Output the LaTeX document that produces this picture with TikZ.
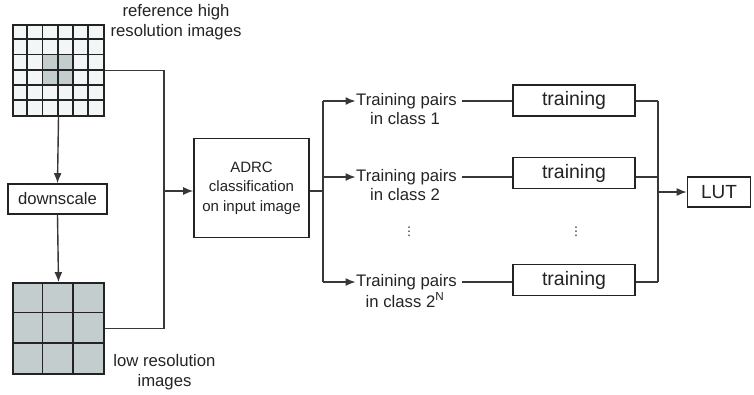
\documentclass[tikz,border=0pt]{standalone}
\usepackage{fontspec}
\setmainfont{Liberation Sans}
\newfontfamily\symfont{DejaVu Sans}
\usetikzlibrary{arrows.meta,calc,positioning}
\definecolor{fg}{RGB}{35,35,35}
\definecolor{ln}{RGB}{55,55,55}
\definecolor{px}{RGB}{242,246,246}
\definecolor{pxd}{RGB}{196,205,205}
\newcommand{\fsz}[2]{\fontsize{#1}{#2}\selectfont}
\tikzset{
  every picture/.style={fg, line width=1.4pt, line join=miter,
    >={Latex[length=10pt,width=8pt]}},
  every node/.style={font=\fsz{16.7}{20}},
  % Linien
  conn/.style={ln, line width=1.4pt},
  arr/.style={conn, ->},
  % Kästen
  blk/.style={draw=fg, line width=1.6pt, fill=white, inner sep=0pt, align=center},
  img/.style={draw=fg, line width=1.8pt, inner sep=0pt, minimum size=91pt},
  cell/.style={fg, line width=1.8pt},
  lbl/.style={align=center, inner sep=0pt, text=fg},
  vdot/.style={lbl, font=\symfont\fsz{12}{12}},
}

\begin{document}
\begin{tikzpicture}[x=1pt, y=-1pt]
  \useasboundingbox (0,0) rectangle (754,394);
  % ---------- Bilder ----------
  \node[img, fill=px] (hr) at (58.5,70.5) {};
  \fill[pxd] ($(hr.north west)+(2*91/6,2*91/6)$) rectangle +(2*91/6,2*91/6);
  \foreach \i in {1,...,5} {
    \draw[cell] ($(hr.north west)+(\i*91/6,0)$) -- +(0,91);
    \draw[cell] ($(hr.north west)+(0,\i*91/6)$) -- +(91,0);
  }
  \node[lbl] (hrt) at (176,22.5) {reference high\\resolution images};
  \node[blk, minimum width=99pt, minimum height=30pt] (ds) at (57.5,199) {downscale};
  \node[img, fill=pxd] (lr) at (58.5,328.5) {};
  \foreach \i in {1,2} {
    \draw[cell] ($(lr.north west)+(\i*91/3,0)$) -- +(0,91);
    \draw[cell] ($(lr.north west)+(0,\i*91/3)$) -- +(91,0);
  }
  \node[lbl] (lrt) at (164.5,372) {low resolution\\images};
  \draw[arr] (hr.south) -- (ds.north);
  \draw[arr] (ds.south) -- (lr.north);
  % ---------- ADRC ----------
  \coordinate (jl) at (164,191);
  \node[blk, font=\fsz{15}{19.5}, minimum width=115pt, minimum height=99pt] (adrc) at (251.5,188) {ADRC\\classification\\on input image};
  \draw[conn] (hr.east) -| (jl);
  \draw[conn] (lr.east) -| (jl);
  \draw[arr] (jl) -- (jl -| adrc.west);
  \coordinate (jm) at (323,191);
  \coordinate (jr) at (658,192);
  \draw[conn] (adrc.east |- jm) -- (jm);
  % ---------- Klassen ----------
  \foreach \k/\y/\yb/\c in {1/101/100.5/1, 2/177/173/2, 3/282/280/{2\textsuperscript{N}}} {
    \node[lbl] (tp\k) at (406.5,\y) {Training pairs};
    \node[lbl] (cl\k) at (405,\y+18) {in class \c};
    \node[blk, font=\fsz{19.5}{22}, minimum width=122pt, minimum height=31pt] (tr\k) at (574,\yb) {training};
    \draw[arr] (jm |- tp\k) -- (tp\k.west);
    \draw[conn, shorten <=5pt] (tp\k.east) -- (tp\k.east -| tr\k.west);
    \draw[conn] (tr\k.east |- tp\k) -- (jr |- tp\k);
  }
  \node[vdot] (vd1) at (409,232) {⋮};
  \node[vdot] (vd2) at (576,232) {⋮};
  \draw[conn] (jm |- tp1) -- (jm |- tp3);
  \draw[conn] (jr |- tp1) -- (jr |- tp3);
  % ---------- LUT ----------
  \node[blk, font=\fsz{19}{22}, minimum width=63pt, minimum height=30pt] (lut) at (719,192) {LUT};
  \draw[arr] (jr) -- (lut.west);
\end{tikzpicture}
\end{document}
